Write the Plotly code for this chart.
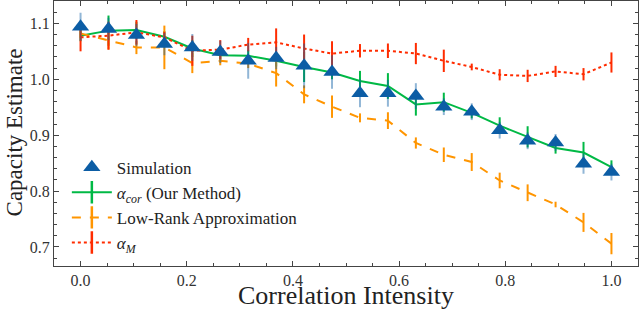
import plotly.graph_objects as go

x = [i / 19 for i in range(20)]

sim = [1.094, 1.090, 1.079, 1.063, 1.057, 1.049, 1.033, 1.038, 1.024, 1.013,
       0.975, 0.975, 0.970, 0.951, 0.942, 0.909, 0.890, 0.887, 0.849, 0.834]
sim_err = [0.025, 0.02, 0.02, 0.02, 0.024, 0.02, 0.032, 0.02, 0.04, 0.03,
           0.025, 0.024, 0.023, 0.015, 0.015, 0.015, 0.015, 0.015, 0.018, 0.015]

cor = [1.078, 1.087, 1.088, 1.076, 1.055, 1.043, 1.042, 1.033, 1.022, 1.012,
       0.997, 0.988, 0.955, 0.959, 0.940, 0.917, 0.897, 0.877, 0.869, 0.843]
cor_err = [0.01, 0.027, 0.015, 0.01, 0.015, 0.01, 0.01, 0.01, 0.027, 0.012,
           0.018, 0.023, 0.02, 0.017, 0.01, 0.015, 0.019, 0.01, 0.019, 0.012]

lowrank = [1.082, 1.069, 1.057, 1.057, 1.029, 1.033, 1.028, 1.011, 0.973, 0.951,
           0.931, 0.926, 0.886, 0.865, 0.852, 0.819, 0.797, 0.776, 0.744, 0.706]
lowrank_err = [0.008, 0.016, 0.012, 0.039, 0.018, 0.008, 0.008, 0.024, 0.016, 0.02,
               0.008, 0.015, 0.01, 0.013, 0.016, 0.014, 0.015, 0.005, 0.017, 0.019]

alpha_m = [1.075, 1.078, 1.084, 1.075, 1.051, 1.053, 1.062, 1.066, 1.055, 1.046,
           1.051, 1.051, 1.046, 1.033, 1.022, 1.008, 1.006, 1.014, 1.009, 1.030]
alpha_m_err = [0.025, 0.025, 0.022, 0.01, 0.027, 0.017, 0.012, 0.025, 0.025, 0.022,
               0.012, 0.013, 0.019, 0.02, 0.006, 0.01, 0.011, 0.01, 0.011, 0.018]

names = ["Simulation", "<i>α</i><sub><i>cor</i></sub> (Our Method)",
         "Low-Rank Approximation", "<i>α</i><sub><i>M</i></sub>"]
x_title = "Correlation Intensity"
y_title = "Capacity Estimate"
x_ticks = [0.0, 0.2, 0.4, 0.6, 0.8, 1.0]
y_ticks = [0.7, 0.8, 0.9, 1.0, 1.1]

BLUE = "#0C5DA5"
GREEN = "#00B945"
ORANGE = "#FF9500"
RED = "#FF2C00"
FONT = "Liberation Serif"

fig = go.Figure()

def line_series(y, err, color, dash, name):
    fig.add_trace(go.Scatter(
        x=x, y=y, mode="lines", showlegend=False,
        line=dict(color=color, width=2, dash=dash),
        error_y=dict(type="data", array=err, color=color, thickness=2, width=0),
    ))
    fig.add_trace(go.Scatter(
        x=[None], y=[None], mode="lines+markers", name=name,
        line=dict(color=color, width=2, dash=dash),
        marker=dict(symbol="line-ns", size=16, line=dict(color=color, width=2.5)),
    ))

fig.add_trace(go.Scatter(
    x=[None], y=[None], mode="markers", name=names[0],
    marker=dict(symbol="triangle-up", size=15, color=BLUE),
))
line_series(cor, cor_err, GREEN, "solid", names[1])
line_series(lowrank, lowrank_err, ORANGE, "dash", names[2])
line_series(alpha_m, alpha_m_err, RED, "dot", names[3])

fig.add_trace(go.Scatter(
    x=x, y=sim, mode="markers", showlegend=False,
    marker=dict(symbol="triangle-up", size=15, color=BLUE),
    error_y=dict(type="data", array=sim_err, color="rgba(12,93,165,0.45)",
                 thickness=2, width=0),
))

axis_common = dict(
    showline=True, linecolor="#444", linewidth=1, mirror="allticks",
    ticks="inside", ticklen=5, tickcolor="#444", showgrid=False, zeroline=False,
    tickfont=dict(family=FONT, size=16, color="#333"),
)

fig.update_layout(
    width=640, height=310,
    margin=dict(l=54, r=2, t=1, b=44, autoexpand=False),
    paper_bgcolor="white", plot_bgcolor="white",
    font=dict(family=FONT, color="#222"),
    xaxis=dict(range=[-0.05, 1.05], tickvals=x_ticks,
               ticktext=[f"{v:.1f}" for v in x_ticks],
               minor=dict(dtick=0.05, tick0=0, ticks="inside", ticklen=3, tickcolor="#444"),
               **axis_common),
    yaxis=dict(range=[0.666, 1.140], tickvals=y_ticks,
               ticktext=[f"{v:.1f}" for v in y_ticks],
               minor=dict(dtick=0.02, tick0=0.7, ticks="inside", ticklen=3, tickcolor="#444"),
               **axis_common),
    legend=dict(x=0.022, y=0.439, xanchor="left", yanchor="top",
                bgcolor="rgba(0,0,0,0)", font=dict(size=17, family=FONT),
                itemwidth=40, tracegroupgap=0),
    annotations=[
        dict(text=x_title, xref="paper", yref="paper", x=0.5, y=-0.11,
             xanchor="center", yanchor="middle", showarrow=False,
             font=dict(size=26, family=FONT, color="#222")),
        dict(text=y_title, xref="paper", yref="paper", x=-0.0685, y=0.504,
             xanchor="center", yanchor="middle", showarrow=False, textangle=-90,
             font=dict(size=23, family=FONT, color="#222")),
    ],
)

fig.write_html("out.html", config={"displayModeBar": False},
               post_script="document.body.style.margin='0';document.body.style.padding='0';")
